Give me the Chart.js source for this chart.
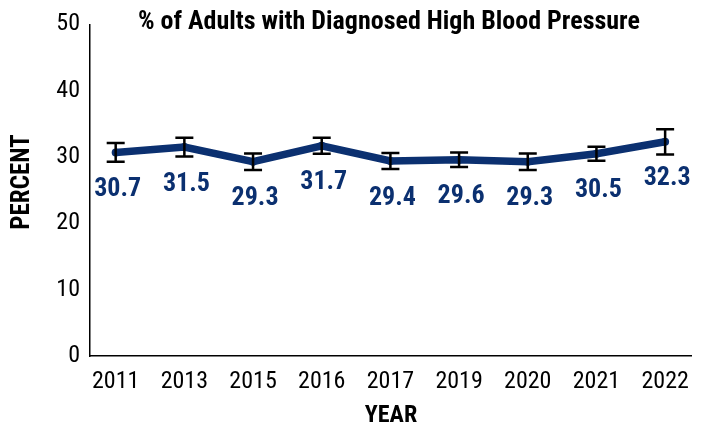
<!DOCTYPE html>
<html>
<head>
<meta charset="utf-8">
<script src="https://cdn.jsdelivr.net/npm/chart.js@4"></script>
<style>
  html, body { margin: 0; padding: 0; background: #fff; }
  #wrap { width: 701px; height: 425px; }
</style>
</head>
<body>
<div id="wrap"><canvas id="bpChart" width="701" height="425"></canvas></div>
<script>
const years = ['2011', '2013', '2015', '2016', '2017', '2019', '2020', '2021', '2022'];
const percent = [30.7, 31.5, 29.3, 31.7, 29.4, 29.6, 29.3, 30.5, 32.3];
const errLow = [1.4, 1.4, 1.25, 1.2, 1.2, 1.1, 1.25, 1.05, 1.9];
const errHigh = [1.4, 1.4, 1.25, 1.2, 1.2, 1.1, 1.25, 1.05, 1.9];

const chartTitle = '% of Adults with Diagnosed High Blood Pressure';
const xTitle = 'YEAR';
const yTitle = 'PERCENT';

const navy = '#0b3070';
const narrow = "'Liberation Sans Narrow', 'Roboto Condensed', 'Roboto', sans-serif";

// error bars, value labels and the titles
const extras = {
  id: 'extras',
  afterDatasetsDraw(chart) {
    const { ctx, scales, chartArea } = chart;
    const x = scales.x, y = scales.y;
    ctx.save();
    ctx.strokeStyle = '#000';
    ctx.lineWidth = 2.5;
    percent.forEach((v, i) => {
      const px = x.getPixelForValue(i);
      const top = y.getPixelForValue(v + errHigh[i]);
      const bot = y.getPixelForValue(v - errLow[i]);
      ctx.beginPath();
      ctx.moveTo(px, top); ctx.lineTo(px, bot);
      ctx.moveTo(px - 9, top); ctx.lineTo(px + 9, top);
      ctx.moveTo(px - 9, bot); ctx.lineTo(px + 9, bot);
      ctx.stroke();
    });

    ctx.fillStyle = navy;
    ctx.font = 'bold 26px ' + narrow;
    ctx.textAlign = 'center';
    ctx.textBaseline = 'middle';
    percent.forEach((v, i) => {
      ctx.fillText(v.toFixed(1), x.getPixelForValue(i) + 2, y.getPixelForValue(v) + 37);
    });

    const cx = (chartArea.left + chartArea.right) / 2;
    ctx.fillStyle = '#000';
    ctx.textBaseline = 'alphabetic';
    ctx.font = 'bold 26px ' + narrow;
    ctx.fillText(chartTitle, cx - 2, 29);
    ctx.font = 'bold 24px ' + narrow;
    ctx.fillText(xTitle, cx, 422);

    ctx.translate(29, 182);
    ctx.rotate(-Math.PI / 2);
    ctx.font = 'bold 25px ' + narrow;
    ctx.fillText(yTitle, 0, 0);
    ctx.restore();
  }
};

const ctx = document.getElementById('bpChart').getContext('2d');
const bpChart = new Chart(ctx, {
  type: 'line',
  data: {
    datasets: [{
      label: chartTitle,
      data: percent.map((v, i) => ({ x: i, y: v })),
      borderColor: navy,
      backgroundColor: navy,
      borderWidth: 7.5,
      pointRadius: 4,
      pointBorderWidth: 0,
      pointHoverRadius: 4,
      tension: 0,
      fill: false,
    }]
  },
  options: {
    responsive: false,
    animation: false,
    layout: { padding: { top: 22, right: 1, left: 0, bottom: 0 } },
    plugins: {
      legend: { display: false },
      tooltip: { enabled: false },
    },
    scales: {
      x: {
        type: 'linear',
        min: -0.374,
        max: 8.39,
        grid: { display: false, drawTicks: false },
        border: { color: '#000', width: 1.5 },
        afterBuildTicks(axis) {
          axis.ticks = years.map((_, i) => ({ value: i }));
        },
        afterFit(axis) { axis.height = 69; },
        ticks: {
          color: '#000',
          font: { family: narrow, size: 24 },
          padding: 12,
          maxRotation: 0,
          autoSkip: false,
          callback: (v) => years[v],
        },
      },
      y: {
        min: 0,
        max: 50,
        grid: { display: false, drawTicks: false },
        border: { color: '#000', width: 1.5 },
        afterFit(axis) { axis.width = 90; },
        ticks: {
          stepSize: 10,
          color: '#000',
          font: { family: narrow, size: 24 },
          padding: 10,
        },
      },
    },
  },
  plugins: [extras],
});
</script>
</body>
</html>
